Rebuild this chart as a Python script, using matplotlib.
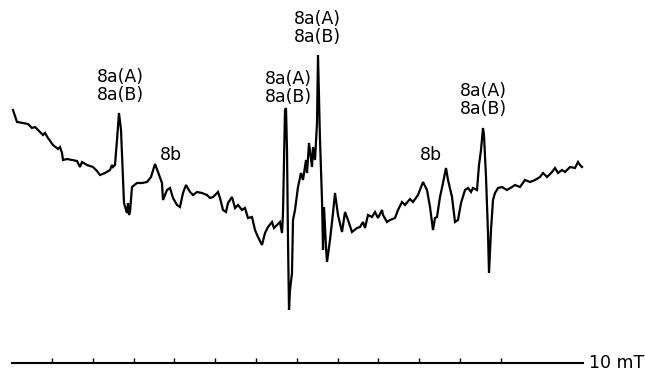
import matplotlib.pyplot as plt
import numpy as np

# EPR trace (x = field position, y = signal, screen units, down = negative)
field = [13, 17, 23, 28, 32, 35, 38, 43, 45, 48, 53, 58, 60, 62, 63, 67, 72, 77, 80, 82,
         87, 93, 97, 100, 105, 110, 112, 113, 115, 117, 119, 121, 123, 124, 126, 127, 128, 129, 130, 132,
         137, 142, 147, 151, 155, 158, 162, 163, 167, 170, 173, 177, 180, 183, 186, 190, 193, 197, 202, 207,
         210, 213, 218, 220, 223, 226, 228, 232, 235, 238, 242, 245, 248, 252, 255, 258, 262, 265, 268, 272,
         274, 277, 280, 282, 283, 285, 286, 287, 288, 289, 290, 292, 293, 295, 298, 301, 303, 306, 307, 309,
         312, 313, 315, 317, 318, 320, 322, 323, 324, 326, 327, 330, 333, 335, 338, 342, 345, 348, 352, 357,
         360, 363, 365, 368, 372, 375, 378, 382, 383, 387, 390, 395, 398, 402, 405, 410, 413, 418, 423, 427,
         430, 433, 435, 437, 440, 443, 446, 448, 452, 455, 458, 461, 465, 468, 471, 473, 477, 479, 481, 483,
         484, 486, 488, 489, 491, 493, 495, 498, 502, 507, 512, 515, 520, 525, 530, 535, 540, 543, 547, 552,
         555, 558, 562, 565, 567, 570, 575, 578, 580, 582]
signal = [110, 122, 123, 124, 128, 127, 130, 135, 133, 138, 145, 149, 147, 153, 160, 159, 160, 161, 167, 162,
          165, 167, 171, 175, 173, 170, 165, 167, 165, 140, 113, 130, 177, 203, 210, 213, 203, 215, 212, 187,
          183, 183, 182, 177, 164, 172, 183, 200, 190, 188, 198, 205, 207, 193, 185, 192, 195, 192, 193, 195,
          198, 197, 192, 198, 210, 212, 203, 197, 208, 205, 210, 208, 218, 217, 230, 237, 245, 233, 227, 222,
          228, 225, 222, 233, 213, 110, 108, 150, 240, 310, 290, 273, 220, 210, 187, 173, 180, 160, 173, 143,
          167, 147, 160, 123, 55, 140, 200, 250, 207, 247, 262, 240, 213, 193, 215, 232, 212, 220, 232, 228,
          227, 222, 228, 215, 217, 212, 218, 210, 215, 222, 220, 218, 210, 202, 205, 199, 202, 195, 182, 190,
          207, 230, 218, 217, 197, 183, 168, 180, 197, 222, 220, 203, 190, 188, 192, 188, 190, 165, 150, 128,
          135, 177, 233, 273, 230, 200, 193, 188, 187, 190, 187, 185, 187, 180, 182, 180, 177, 173, 177, 172,
          168, 173, 170, 172, 170, 167, 168, 162, 165, 167]

# peak assignments
label_x = [120, 288, 317, 483, 171, 431]
label_y = [86, 88, 28, 100, 155, 155]
label_text = ["8a(A)\n8a(B)", "8a(A)\n8a(B)", "8a(A)\n8a(B)", "8a(A)\n8a(B)", "8b", "8b"]

# field scale bar
bar_start, bar_end = 12, 583
tick_first, tick_step, n_ticks = 52, 40.8, 12
bar_y = 363

fig = plt.figure(figsize=(6.45, 3.71), dpi=100)
ax = fig.add_axes([0, 0, 1, 1])
ax.set_xlim(0, 645)
ax.set_ylim(371, 0)
ax.axis('off')

ax.plot(field, signal, color='black', lw=1.6, solid_joinstyle='miter')

for x, y, t in zip(label_x, label_y, label_text):
    ax.text(x, y, t, ha='center', va='center', fontsize=12.5, linespacing=1.05,
            family='DejaVu Sans')

ticks = tick_first + tick_step * np.arange(n_ticks)
ax.plot([bar_start, bar_end], [bar_y, bar_y], color='black', lw=1.5)
ax.vlines(ticks, bar_y - 5, bar_y, color='black', lw=1.0)
ax.text(bar_end + 6, bar_y, "10 mT", ha='left', va='center', fontsize=12.5, family='DejaVu Sans')

fig.savefig('out.png', dpi=100)
